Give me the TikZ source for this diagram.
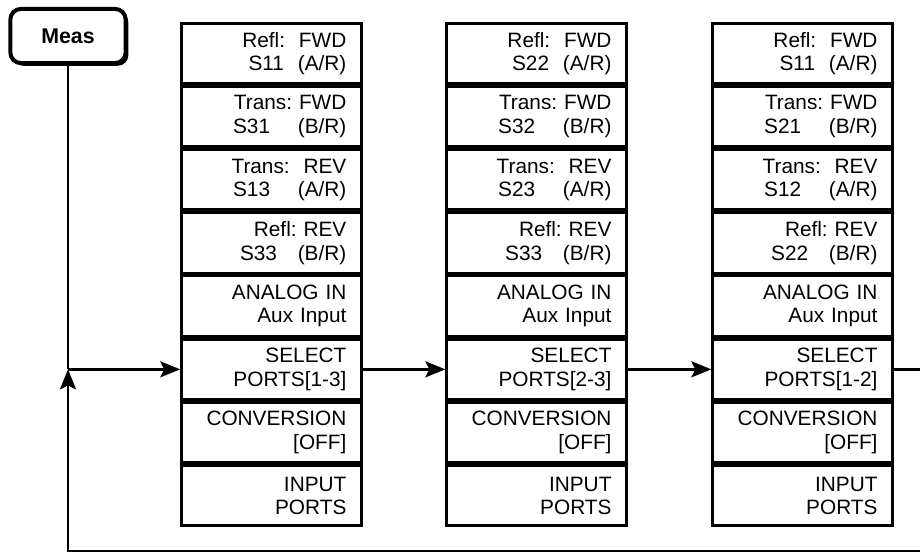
\documentclass[tikz,border=0pt]{standalone}
\usepackage{fontspec}
\setmainfont{Liberation Sans}
\frenchspacing
\usetikzlibrary{positioning,arrows.meta,shadows}

\tikzset{
  cell/.style={draw, line width=2.2pt, minimum width=135pt, minimum height=45.19pt,
    text width=112pt, inner sep=0pt, align=right,
    font=\fontsize{15.6}{17.5}\selectfont},
  measbox/.style={draw, fill=white, line width=3pt, rounded corners=8pt,
    minimum width=86.5pt, minimum height=40.7pt,
    font=\fontsize{16}{18}\selectfont\bfseries,
    drop shadow={shadow xshift=2pt, shadow yshift=-2pt, fill=black, opacity=1}},
  wire/.style={line width=2pt},
  flow/.style={wire, -{Stealth[length=15pt, width=12pt, inset=3pt]}}
}

\begin{document}
\begin{tikzpicture}[x=0.75pt,y=-0.75pt]
\useasboundingbox (0,0) rectangle (920,552);

\node[measbox] (meas) at (68,36) {Meas};

% one column of softkeys per port pair
\foreach \bx/\x/\ra/\rb/\rc/\rd/\pr in {a/271.7/S11/S31/S13/S33/1-3,
                                          b/536.8/S22/S32/S23/S33/2-3,
                                          c/802.8/S11/S21/S12/S22/1-2} {
  \node[cell] (\bx1) at (\x,53.4) {Refl:~~FWD\\\ra~~(A/R)};
  \node[cell, below=0pt of \bx1] (\bx2) {Trans: FWD\\\rb~~~~(B/R)};
  \node[cell, below=0pt of \bx2] (\bx3) {Trans:~~REV\\\rc~~~~(A/R)};
  \node[cell, below=0pt of \bx3] (\bx4) {Refl:~REV\\\rd~~~(B/R)};
  \node[cell, below=0pt of \bx4] (\bx5) {ANALOG IN\\Aux Input};
  \node[cell, below=0pt of \bx5] (\bx6) {SELECT\\PORTS[\pr]};
  \node[cell, below=0pt of \bx6] (\bx7) {CONVERSION\\{[OFF]}};
  \node[cell, below=0pt of \bx7] (\bx8) {INPUT\\PORTS};
}

\coordinate (join) at (meas.south |- a6.west);
\coordinate (rimbot) at (920,551);

\draw[wire] (meas) -- (join);
\draw[flow] (join) -- (a6);
\draw[flow] (a6) -- (b6);
\draw[flow] (b6) -- (c6);
\draw[wire] (c6) -- (c6 -| rimbot);
\draw[flow] (rimbot) -- (rimbot -| join) -- (join);
\end{tikzpicture}
\end{document}
